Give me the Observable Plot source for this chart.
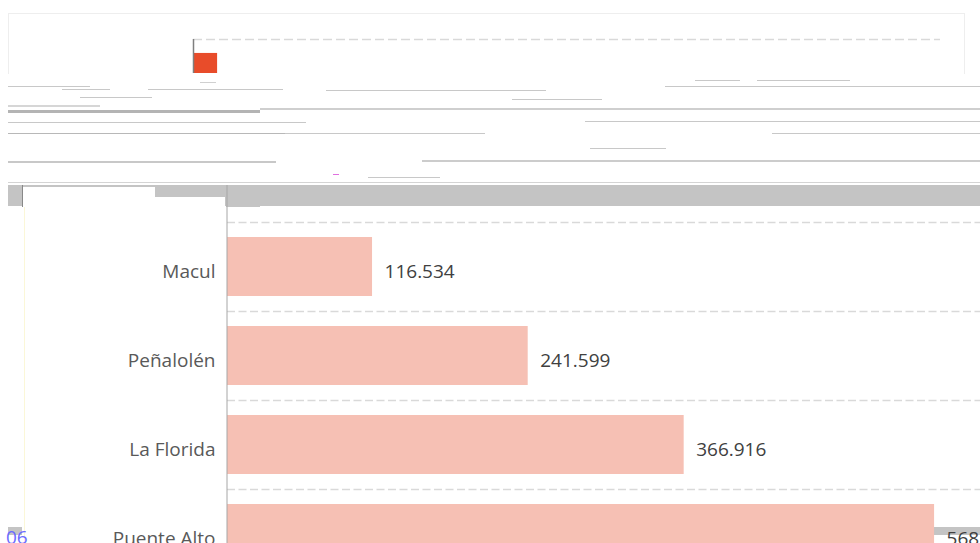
<!DOCTYPE html>
<html>
<head>
<meta charset="utf-8">
<script src="https://cdn.jsdelivr.net/npm/d3@7"></script>
<script src="https://cdn.jsdelivr.net/npm/@observablehq/plot@0.6"></script>
<style>
  html, body { margin: 0; padding: 0; background: #fff; }
  body { width: 980px; height: 543px; overflow: hidden; position: relative; font-family: "Open Sans", sans-serif; }
  .abs { position: absolute; }
  .ln { position: absolute; background: #c8c8c8; }
</style>
</head>
<body>
<!-- glitched strip decoration -->
<div class="abs" style="left:8px;top:13px;width:955px;height:60px;border:1px solid #eeeeee;border-bottom:none;"></div>
<div class="ln" style="left:200px;top:82px;width:16px;height:1px;background:#d0d0d0"></div>
<div class="ln" style="left:8px;top:86px;width:82px;height:1px;"></div>
<div class="ln" style="left:62px;top:89px;width:48px;height:1px;"></div>
<div class="ln" style="left:148px;top:89px;width:135px;height:1px;"></div>
<div class="ln" style="left:326px;top:90px;width:220px;height:1px;"></div>
<div class="ln" style="left:695px;top:80px;width:45px;height:1px;"></div>
<div class="ln" style="left:757px;top:80px;width:93px;height:1px;"></div>
<div class="ln" style="left:665px;top:86px;width:315px;height:1px;"></div>
<div class="ln" style="left:80px;top:97px;width:72px;height:1px;"></div>
<div class="ln" style="left:512px;top:99px;width:90px;height:1px;"></div>
<div class="ln" style="left:8px;top:105px;width:92px;height:2px;background:#d6d6d6"></div>
<div class="ln" style="left:260px;top:108px;width:720px;height:2px;background:#cfcfcf"></div>
<div class="ln" style="left:8px;top:110px;width:252px;height:3px;background:#b4b4b4"></div>
<div class="ln" style="left:8px;top:122px;width:298px;height:1px;"></div>
<div class="ln" style="left:585px;top:121px;width:395px;height:1px;"></div>
<div class="ln" style="left:8px;top:133px;width:277px;height:1px;background:#b8b8b8"></div>
<div class="ln" style="left:285px;top:133px;width:200px;height:1px;"></div>
<div class="ln" style="left:772px;top:133px;width:208px;height:1px;"></div>
<div class="ln" style="left:590px;top:148px;width:76px;height:1px;"></div>
<div class="ln" style="left:8px;top:161px;width:268px;height:2px;"></div>
<div class="ln" style="left:422px;top:160px;width:558px;height:2px;background:#cccccc"></div>
<div class="ln" style="left:368px;top:177px;width:72px;height:1px;"></div>
<div class="ln" style="left:333px;top:174px;width:6px;height:1px;background:#e070e0"></div>
<div class="ln" style="left:8px;top:182px;width:972px;height:1px;background:#d4d4d4"></div>
<!-- grey band -->
<div class="abs" style="left:8px;top:185px;width:972px;height:21px;background:#c4c4c4"></div>
<div class="abs" style="left:226px;top:206px;width:34px;height:1px;background:#c4c4c4"></div>
<div class="abs" style="left:23px;top:187px;width:132px;height:20px;background:#fff"></div>
<div class="abs" style="left:155px;top:197px;width:70px;height:10px;background:#fff"></div>
<div class="abs" style="left:22px;top:185px;width:1px;height:22px;background:#888"></div>
<div class="abs" style="left:24px;top:207px;width:1px;height:336px;background:#fbf7d8"></div>
<!-- bottom glitches -->
<div class="abs" style="left:8px;top:527px;width:14px;height:8px;background:#c4c4c4"></div>
<div class="abs" style="left:933px;top:527px;width:47px;height:8px;background:#c4c4c4"></div>
<div class="abs" style="left:6px;top:528px;font-size:19px;line-height:19px;color:#6b6bff;">06</div>

<div id="top" class="abs" style="left:0;top:0"></div>
<div id="main" class="abs" style="left:0;top:185px"></div>

<script>
// ---- data ----
const comunas = ["Macul", "Peñalolén", "La Florida", "Puente Alto"];
const poblacion = [116534, 241599, 366916, 568106];

// top (glitched) mini chart
const topStart = [0];
const topEnd = [1];
const topValues = [59];

const rows = comunas.map((c, i) => ({comuna: c, valor: poblacion[i]}));
const topRows = topValues.map((v, i) => ({start: topStart[i], end: topEnd[i], value: v}));

const es = d3.formatLocale({decimal: ",", thousands: ".", grouping: [3], currency: ["$", ""]});
const fmt = es.format(",");

// ---- top strip chart ----
const topPlot = Plot.plot({
  width: 980,
  height: 80,
  marginTop: 39,
  marginBottom: 7,
  marginLeft: 193,
  marginRight: 40,
  style: {background: "transparent"},
  x: {domain: [0, 31], axis: null},
  y: {domain: [0, 100], axis: null},
  marks: [
    Plot.ruleY([100], {stroke: "#d9d9d9", strokeWidth: 1.5, strokeDasharray: "9,4"}),
    Plot.rectY(topRows, {x1: "start", x2: "end", y: "value", fill: "#e84c2a"}),
    Plot.ruleX([0], {stroke: "#7f7f7f", strokeWidth: 1.5})
  ]
});
document.getElementById("top").appendChild(topPlot);

// ---- main chart ----
const main = Plot.plot({
  width: 980,
  height: 420,
  marginTop: 22,
  marginBottom: 12,
  marginLeft: 227,
  marginRight: 0,
  style: {background: "transparent", fontFamily: "Open Sans", color: "#595959"},
  x: {domain: [0, 605000], axis: null},
  y: {domain: comunas, padding: 0.337, label: null},
  marks: [
    Plot.ruleY(rows, {y: "comuna", dy: -44.5, stroke: "#d9d9d9", strokeWidth: 1.5, strokeDasharray: "8,3.5"}),
    Plot.barX(rows, {y: "comuna", x: "valor", fill: "#f6c0b4"}),
    Plot.text(rows, {y: "comuna", x: "valor", text: d => fmt(d.valor), textAnchor: "start", dx: 12, dy: 5, fontSize: 19, fill: "#404040"}),
    Plot.axisY({tickSize: 0, tickPadding: 12, fontSize: 19, dy: 5, label: null}),
    Plot.ruleX([0], {stroke: "#a6a6a6", strokeWidth: 1, insetTop: -22, dx: -0.5})
  ]
});
document.getElementById("main").appendChild(main);
</script>
</body>
</html>
